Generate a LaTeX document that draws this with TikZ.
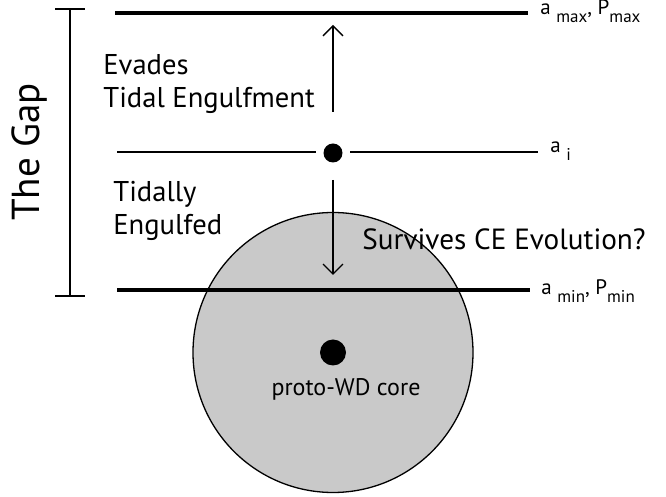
\documentclass[tikz,border=0pt]{standalone}
\usepackage{fontspec}
\setmainfont{PT Sans}
\usetikzlibrary{arrows.meta}
\newcommand{\lowsub}[1]{\raisebox{-4pt}{\fontsize{8.5}{10}\selectfont #1}}
\begin{document}
\begin{tikzpicture}[x=0.5pt,y=-0.5pt,
	thickline/.style={line width=2pt},
	thinline/.style={line width=0.65pt},
	migrate/.style={thinline, -{Straight Barb[length=5pt,width=10pt,line width=0.65pt]}},
	txt/.style={font=\fontsize{14.3}{16.5}\selectfont, align=left, inner sep=0pt},
	sublbl/.style={font=\fontsize{10.5}{12}\selectfont, anchor=base west, inner sep=0pt},
	dot/.style={circle, fill=black, inner sep=0pt}]
	\useasboundingbox (0,0) rectangle (666,497);

	% the star
	\draw[thinline, fill=black!21] (333,352.5) circle (140);
	\node[dot, minimum size=13pt] (core) at (333,352.5) {};
	\node[txt, font=\fontsize{12}{14}\selectfont] (corelbl) at (346,389) {proto-WD core};

	% orbits
	\coordinate (amaxL) at (115,13);
	\coordinate (amaxR) at (528,13);
	\draw[thickline] (amaxL) -- (amaxR);
	\node[sublbl] (amax) at (540,15) {a \lowsub{max}, P\lowsub{max}};

	\node[dot, minimum size=9.5pt] (planet) at (333,153) {};
	\coordinate (aiL) at (117,152);
	\coordinate (aiR) at (538,152);
	\draw[thinline] (aiL) -- (316,152);
	\draw[thinline] (350,152) -- (aiR);
	\node[sublbl] (ai) at (550,153) {a \lowsub{i}};

	\coordinate (aminL) at (117,290);
	\coordinate (aminR) at (530,290);
	\draw[thickline] (aminL) -- (aminR);
	\node[sublbl] (amin) at (541,295) {a \lowsub{min}, P\lowsub{min}};

	% migration
	\coordinate (upS) at (333,112);
	\coordinate (upE) at (333,25);
	\coordinate (downS) at (333,180);
	\coordinate (downE) at (333,275);
	\draw[migrate] (upS) -- (upE);
	\draw[migrate] (downS) -- (downE);

	% the gap
	\coordinate (gapT) at (70,9);
	\coordinate (gapB) at (70,296);
	\draw[thinline] (gapT) -- (gapB);
	\draw[thinline] (55,9) -- (85,9);
	\draw[thinline] (55,296) -- (85,296);
	\node[txt, font=\fontsize{19.5}{22}\selectfont, rotate=90] (gap) at (30,152) {The Gap};

	\node[txt, anchor=north west] (evades) at (103,54) {Evades\\Tidal Engulfment};
	\node[txt, anchor=north west] (engulfed) at (113,181) {Tidally\\Engulfed};
	\node[txt, font=\fontsize{14.6}{16.5}\selectfont, anchor=north west] (survives) at (362,228) {Survives CE Evolution?};
\end{tikzpicture}
\end{document}
